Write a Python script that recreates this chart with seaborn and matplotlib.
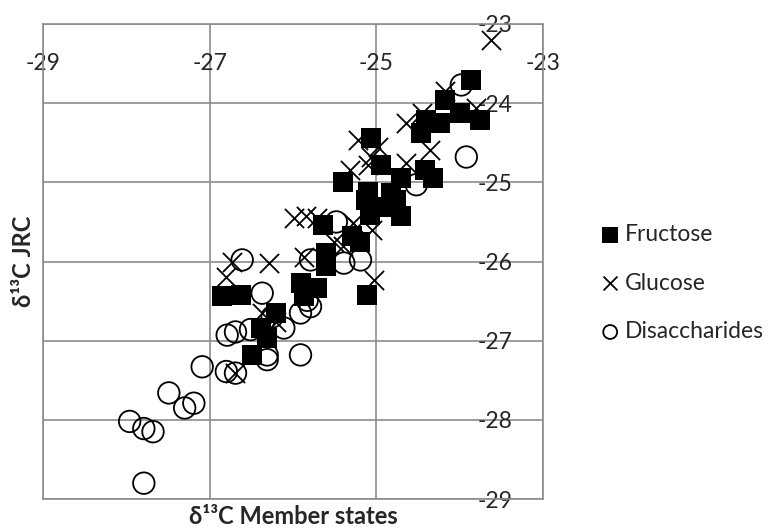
import matplotlib
matplotlib.use("Agg")
import matplotlib.pyplot as plt
import seaborn as sns

# (delta 13C, Member states vs JRC)
fructose_ms = [-23.86, -24.18, -24.00, -23.76, -24.40, -24.24, -24.46, -25.06, -24.94,
               -24.42, -24.32, -24.70, -25.40, -25.10, -24.82, -25.12, -24.76, -24.94,
               -24.70, -25.08, -25.64, -25.29, -25.20, -25.60, -25.60, -26.85, -26.63,
               -25.11, -25.91, -25.71, -25.87, -26.20, -26.39, -26.31, -26.49]
fructose_jrc = [-23.71, -23.96, -24.12, -24.21, -24.21, -24.25, -24.38, -24.44, -24.78,
                -24.84, -24.95, -24.95, -25.00, -25.12, -25.14, -25.22, -25.22, -25.31,
                -25.43, -25.41, -25.54, -25.68, -25.75, -25.89, -26.06, -26.44, -26.42,
                -26.42, -26.27, -26.34, -26.44, -26.65, -26.84, -26.97, -27.18]

glucose_ms = [-23.62, -24.18, -23.80, -24.64, -25.22, -25.06, -25.32, -24.64, -24.36,
              -24.98, -25.10, -24.45, -25.84, -25.28, -25.99, -25.71, -26.73, -26.29,
              -26.81, -25.87, -25.03, -25.51, -25.23, -26.21, -26.37, -26.70, -25.05,
              -25.40]
glucose_jrc = [-23.20, -23.85, -24.06, -24.25, -24.47, -24.68, -24.84, -24.76, -24.59,
               -24.55, -24.78, -24.12, -25.43, -25.51, -25.45, -25.45, -26.00, -26.02,
               -26.19, -25.94, -26.23, -25.75, -25.56, -26.76, -26.65, -27.41, -25.60,
               -25.80]

disacch_ms = [-23.98, -23.92, -24.52, -25.48, -26.61, -25.79, -25.39, -25.19, -26.37,
              -25.83, -25.79, -25.91, -26.11, -26.79, -26.69, -26.51, -26.31, -26.31,
              -25.91, -26.80, -26.69, -27.09, -27.49, -27.30, -27.19, -27.96, -27.79,
              -27.68, -27.79, -26.25]
disacch_jrc = [-23.77, -24.68, -25.03, -25.50, -25.98, -25.98, -26.02, -25.98, -26.40,
               -26.49, -26.57, -26.65, -26.84, -26.93, -26.89, -26.86, -27.18, -27.24,
               -27.18, -27.39, -27.41, -27.33, -27.66, -27.85, -27.79, -28.02, -28.11,
               -28.15, -28.80, -26.70]

x_ticks = [-29, -27, -25, -23]
y_ticks = [-29, -28, -27, -26, -25, -24, -23]

sns.set_style("white")
plt.rcParams["font.family"] = ["Lato", "Open Sans", "DejaVu Sans"]
plt.rcParams["axes.unicode_minus"] = False

grey = "#8c8c8c"
fig = plt.figure(figsize=(7.73, 5.29), dpi=100)
ax = fig.add_axes([43 / 773, 1 - 499 / 529, 500 / 773, 475 / 529])

sns.scatterplot(x=fructose_ms, y=fructose_jrc, marker="s", s=190, color="black",
                edgecolor="black", linewidth=0, label="Fructose", ax=ax, zorder=3)
sns.scatterplot(x=glucose_ms, y=glucose_jrc, marker="x", s=190, color="black",
                linewidth=1.3, label="Glucose", ax=ax, zorder=3)
sns.scatterplot(x=disacch_ms, y=disacch_jrc, marker="o", s=240, facecolors="none",
                edgecolor="black", linewidth=1.3, label="Disaccharides", ax=ax, zorder=3)

ax.set_xlim(-29, -23)
ax.set_ylim(-29, -23)
ax.set_xticks(x_ticks)
ax.set_yticks(y_ticks)
ax.set_xticklabels([str(t) for t in x_ticks])
ax.set_yticklabels([str(t) for t in y_ticks])
ax.grid(True, color=grey, linewidth=1.2)
ax.set_axisbelow(True)
for sp in ax.spines.values():
    sp.set_color(grey)
    sp.set_linewidth(1.2)

# axes cross at -23, so labels sit inside along the top and right edges
ax.tick_params(axis="x", length=0, labelbottom=False, labeltop=True,
               pad=-36, labelsize=16.5)
ax.tick_params(axis="y", length=0, labelleft=False, labelright=True,
               pad=-47, labelsize=16.5)

ax.set_xlabel("δ¹³C Member states", fontsize=17, fontweight="bold")
ax.set_ylabel("δ¹³C JRC", fontsize=17, fontweight="bold")
ax.xaxis.set_label_position("bottom")
ax.xaxis.labelpad = 4
ax.yaxis.labelpad = 6

ax.legend_.remove()
handles, labels = ax.get_legend_handles_labels()
leg = fig.legend(handles, labels, loc="upper left", bbox_to_anchor=(601 / 773, 1 - 224 / 529),
                 frameon=False, fontsize=16.5, handlelength=0.8,
                 handletextpad=0.25, labelspacing=1.2, borderpad=0, borderaxespad=0)
for h, sz in zip(leg.legend_handles, [130, 100, 100]):
    h.set_sizes([sz])

fig.savefig("out.png", dpi=100)
